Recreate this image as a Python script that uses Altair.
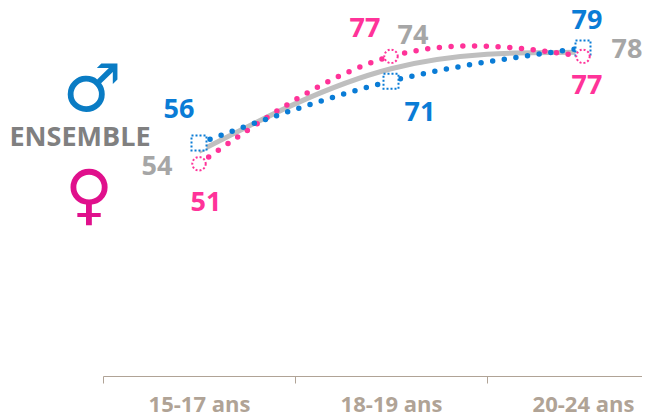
import altair as alt
import pandas as pd

ages = ["15-17 ans", "18-19 ans", "20-24 ans"]
hommes = [56, 71, 79]
femmes = [51, 77, 77]
ensemble = [54, 74, 78]

BLUE = "#0a7cd6"
PINK = "#ff3399"
GREY = "#bfbfbf"
GREY_T = "#a6a6a6"
AXIS = "#b0a396"
FONT = "Open Sans"

def frame(vals):
    return pd.DataFrame({"age": ages, "v": vals})

x = alt.X("age:N", sort=ages, title=None,
          scale=alt.Scale(range=[0, 576], paddingInner=0, paddingOuter=0),
          axis=alt.Axis(labelAngle=0, labelColor=AXIS, labelFont=FONT, labelFontWeight="bold",
                        labelFontSize=22, labelPadding=11, domainColor=AXIS, tickColor=AXIS,
                        tickSize=7, tickBand="extent", grid=False, domainWidth=1, tickWidth=1,
                        labelFlush=False, labelOverlap=False))
y = alt.Y("v:Q", title=None, axis=None,
          scale=alt.Scale(domain=[-0.36, 88.7], nice=False, zero=False))

def line(vals, color, **kw):
    return alt.Chart(frame(vals)).mark_line(interpolate="natural", color=color, clip=False, **kw).encode(x=x, y=y)

def marker(vals, shape, size, color):
    return alt.Chart(frame(vals)).mark_point(shape=shape, size=size, filled=False, fill="white", fillOpacity=1,
                                             stroke=color, strokeWidth=2, strokeDash=[2, 2], opacity=1).encode(x=x, y=y)

def label(vals, i, color, dx, dy):
    return alt.Chart(frame(vals).iloc[[i]]).mark_text(font=FONT, fontWeight="bold", fontSize=27, color=color,
                                                      align="center", baseline="middle", dx=dx, dy=dy).encode(
        x=x, y=y, text=alt.Text("v:Q"))

def note(text, px, py, size, color, font=FONT, weight="bold"):
    return alt.Chart(pd.DataFrame({"t": [text]})).mark_text(font=font, fontWeight=weight, fontSize=size, color=color,
                                                            align="center", baseline="middle").encode(
        x=alt.value(px), y=alt.value(py), text="t:N")

layers = [
    line(ensemble, GREY, strokeWidth=5),
    line(femmes, PINK, strokeWidth=5.5, strokeDash=[0, 11.75], strokeCap="round"),
    line(hommes, BLUE, strokeWidth=5.5, strokeDash=[0, 11.75], strokeCap="round"),
    marker(hommes, "square", 225, BLUE),
    marker(femmes, "circle", 180, PINK),
    label(hommes, 0, BLUE, -20, -33), label(hommes, 1, BLUE, 29, 32), label(hommes, 2, BLUE, 4, -27),
    label(femmes, 0, PINK, 7, 39), label(femmes, 1, PINK, -26, -27), label(femmes, 2, PINK, 4, 30),
    label(ensemble, 0, GREY_T, -42, 16), label(ensemble, 1, GREY_T, 22, -33), label(ensemble, 2, GREY_T, 44, -2),
    note("ENSEMBLE", -23, 130, 27, "#808080"),
    note("\u2642", -11, 83, 66, "#0a7cc4", font="DejaVu Sans", weight="normal"),
    note("\u2640", -14, 189, 66, "#e0108c", font="DejaVu Sans", weight="normal"),
]

chart = alt.layer(*layers).properties(
    width=539, height=368,
    padding={"left": 95, "right": 0, "top": 0, "bottom": 42},
    autosize=alt.AutoSizeParams(type="none"),
).configure_view(stroke=None)

chart.save("out.html", embed_options={"renderer": "svg", "actions": False})
